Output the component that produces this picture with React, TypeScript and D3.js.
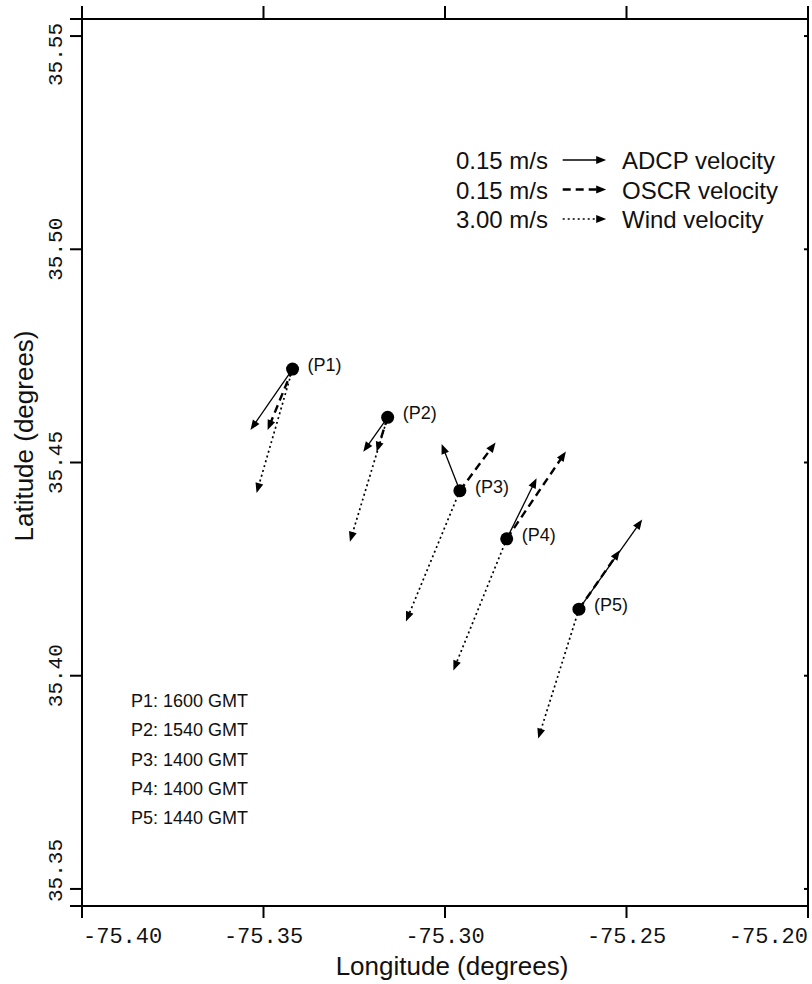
import React from "react";
import * as d3 from "d3";

// axis ticks
const lonTicks = [-75.4, -75.35, -75.3, -75.25, -75.2];
const latTicks = [35.35, 35.4, 35.45, 35.5, 35.55];

// stations
const stations = ["P1", "P2", "P3", "P4", "P5"];
const stationLon = [-75.342, -75.3158, -75.2959, -75.283, -75.2631];
const stationLat = [35.4719, 35.4606, 35.4434, 35.4321, 35.4156];
const obsTimes = ["1600 GMT", "1540 GMT", "1400 GMT", "1400 GMT", "1440 GMT"];

// velocities (m/s), u = east, v = north
const adcpU = [-0.145, -0.084, -0.063, 0.103, 0.218];
const adcpV = [-0.21, -0.119, 0.161, 0.209, 0.309];
const oscrU = [-0.086, -0.038, 0.123, 0.204, 0.141];
const oscrV = [-0.21, -0.119, 0.166, 0.301, 0.203];
const windU = [-2.48, -2.6, -3.72, -3.68, -2.81];
const windV = [-8.55, -8.58, -9.03, -9.08, -8.92];

// legend
const legendSpeeds = ["0.15 m/s", "0.15 m/s", "3.00 m/s"];
const legendNames = ["ADCP velocity", "OSCR velocity", "Wind velocity"];
const legendRef = [0.15, 0.15, 3.0];

const W = 812;
const H = 984;
const left = 82;
const right = 808;
const top = 19;
const bottom = 906;
const tickLen = 12;

const monoFont = "'Liberation Mono', 'DejaVu Sans Mono', monospace";
const sansFont = "'Liberation Sans', Arial, Helvetica, sans-serif";

const styles = [
  { dash: "none", width: 1.3 },
  { dash: "8,5", width: 2.4 },
  { dash: "2,3", width: 1.7 },
];

function Arrow({ x0, y0, dx, dy, kind }: { x0: number; y0: number; dx: number; dy: number; kind: number }) {
  const len = Math.hypot(dx, dy);
  const ux = dx / len;
  const uy = dy / len;
  const h = 10;
  const w = 4;
  const tx = x0 + dx;
  const ty = y0 + dy;
  const bx = tx - ux * h;
  const by = ty - uy * h;
  const px = -uy;
  const py = ux;
  const s = styles[kind];
  return (
    <g>
      <line
        x1={x0}
        y1={y0}
        x2={tx - ux * h * 0.7}
        y2={ty - uy * h * 0.7}
        stroke="#000"
        strokeWidth={s.width}
        strokeDasharray={s.dash}
      />
      <polygon
        points={`${tx},${ty} ${bx + px * w},${by + py * w} ${bx - px * w},${by - py * w}`}
        fill="#000"
      />
    </g>
  );
}

const App: React.FC = () => {
  const x = d3.scaleLinear().domain([-75.4, -75.2]).range([left, right]);
  const y = d3.scaleLinear().domain([35.346, 35.554]).range([bottom, top]);
  const currentScale = d3.scaleLinear().domain([0, 0.15]).range([0, 43.5]);
  const windScale = d3.scaleLinear().domain([0, 3]).range([0, 43.5]);

  const xLabelHalf = (6 * 0.6 * 22) / 2;
  const yLabelHalf = (5 * 0.6 * 21) / 2;

  const legendArrowX0 = 562.7;
  const legendRows = [160, 189.5, 219];

  return (
    <svg width={W} height={H} style={{ position: "absolute", left: 0, top: 0, background: "#fff" }}>
      <rect x={0} y={0} width={W} height={H} fill="#fff" />

      {/* frame */}
      <g stroke="#000" strokeWidth={2}>
        <line x1={left - tickLen} y1={top} x2={right} y2={top} />
        <line x1={left - tickLen} y1={bottom} x2={right} y2={bottom} />
        <line x1={left} y1={top - tickLen} x2={left} y2={bottom + tickLen} />
        <line x1={right} y1={top - tickLen} x2={right} y2={bottom + tickLen} />
      </g>

      {/* x ticks */}
      <g stroke="#000" strokeWidth={2}>
        {lonTicks.map((t) => (
          <g key={"xt" + t}>
            <line x1={x(t)} y1={top} x2={x(t)} y2={top - tickLen - 1} />
            <line x1={x(t)} y1={bottom} x2={x(t)} y2={bottom + tickLen} />
          </g>
        ))}
        {latTicks.map((t) => (
          <g key={"yt" + t}>
            <line x1={left} y1={y(t)} x2={left - tickLen} y2={y(t)} />
            <line x1={right} y1={y(t)} x2={right - 4} y2={y(t)} />
          </g>
        ))}
      </g>

      {/* tick labels */}
      <g fontFamily={monoFont} fill="#111">
        {lonTicks.map((t) => {
          const cx = Math.min(Math.max(x(t), left + 1 + xLabelHalf), right - xLabelHalf);
          return (
            <text key={"xl" + t} x={cx} y={943} fontSize={22} textAnchor="middle">
              {d3.format(".2f")(t).replace("−", "-")}
            </text>
          );
        })}
        {latTicks.map((t) => {
          const cy = Math.min(Math.max(y(t), top + 4 + yLabelHalf), bottom - 4 - yLabelHalf);
          return (
            <text
              key={"yl" + t}
              transform={`translate(62,${cy}) rotate(-90)`}
              fontSize={21}
              textAnchor="middle"
            >
              {d3.format(".2f")(t)}
            </text>
          );
        })}
      </g>

      {/* axis titles */}
      <text x={452} y={975} fontFamily={sansFont} fontSize={26} textAnchor="middle" fill="#111">
        Longitude (degrees)
      </text>
      <text
        transform={`translate(33,${436}) rotate(-90)`}
        fontFamily={sansFont}
        fontSize={26}
        textAnchor="middle"
        fill="#111"
      >
        Latitude (degrees)
      </text>

      {/* legend */}
      <g fontFamily={sansFont} fontSize={24} fill="#111">
        {legendNames.map((name, i) => {
          const len = i < 2 ? currentScale(legendRef[i]) : windScale(legendRef[i]);
          return (
            <g key={name}>
              <text x={548} y={legendRows[i] + 9} textAnchor="end">
                {legendSpeeds[i]}
              </text>
              <Arrow x0={legendArrowX0} y0={legendRows[i]} dx={len} dy={0} kind={i} />
              <text x={622} y={legendRows[i] + 9}>
                {name}
              </text>
            </g>
          );
        })}
      </g>

      {/* vectors */}
      {stations.map((s, i) => {
        const x0 = x(stationLon[i]);
        const y0 = y(stationLat[i]);
        const vecs = [
          [adcpU[i], adcpV[i], 0],
          [oscrU[i], oscrV[i], 1],
          [windU[i], windV[i], 2],
        ];
        return (
          <g key={s}>
            {vecs.map(([u, v, k]) => {
              const sc = k === 2 ? windScale : currentScale;
              return <Arrow key={k} x0={x0} y0={y0} dx={sc(u)} dy={-sc(v)} kind={k} />;
            })}
          </g>
        );
      })}

      {/* stations */}
      {stations.map((s, i) => {
        const x0 = x(stationLon[i]);
        const y0 = y(stationLat[i]);
        return (
          <g key={"st" + s}>
            <circle cx={x0} cy={y0} r={6.5} fill="#000" />
            <text x={x0 + 15} y={y0 + 2} fontFamily={sansFont} fontSize={18} fill="#111">
              ({s})
            </text>
          </g>
        );
      })}

      {/* observation times */}
      <g fontFamily={sansFont} fontSize={18} fill="#111">
        {stations.map((s, i) => (
          <text key={"tm" + s} x={131} y={707 + i * 29.3}>
            {s}: {obsTimes[i]}
          </text>
        ))}
      </g>
    </svg>
  );
};

export default App;
